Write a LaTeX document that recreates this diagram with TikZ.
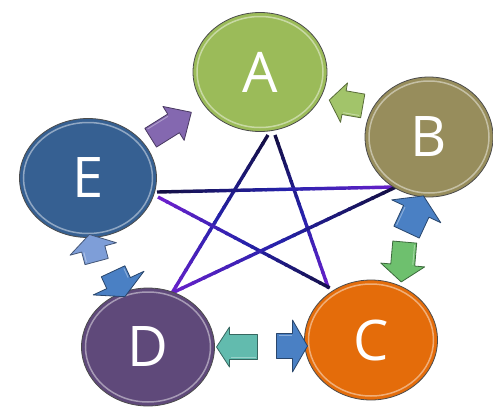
\documentclass[tikz,border=0pt]{standalone}
\usepackage{fontspec}
\setmainfont{Open Sans}
\usetikzlibrary{shapes.geometric,calc}
\definecolor{cA}{HTML}{9BBB59}
\definecolor{cB}{HTML}{978D5C}
\definecolor{cC}{HTML}{E46C0A}
\definecolor{cD}{HTML}{5F497A}
\definecolor{cE}{HTML}{366092}
\definecolor{navy}{HTML}{140F45}
\definecolor{sblue}{HTML}{2622AA}
\definecolor{spurp}{HTML}{6C20CC}
\definecolor{arPurple}{HTML}{8468B0}
\definecolor{arLGreen}{HTML}{A2C46A}
\definecolor{arBlue}{HTML}{4A80C4}
\definecolor{arGreen}{HTML}{6EC06E}
\definecolor{arLBlue}{HTML}{7E9ED8}
\definecolor{arTeal}{HTML}{62BBAE}
\newcommand\blockarrow[8]{%
  \begin{scope}[shift={(#1,#2)},rotate=#3]
    \fill[#8,draw=#8!55!black,line width=0.8pt,line join=round]
      (-#4/2,-#6) -- (#4/2-#5,-#6) -- (#4/2-#5,-#7) -- (#4/2,0) --
      (#4/2-#5,#7) -- (#4/2-#5,#6) -- (-#4/2,#6) -- cycle;
    \draw[white,opacity=0.35,line width=1pt]
      (-#4/2+2,-#6+2) -- (#4/2-#5-1,-#6+2);
  \end{scope}}
\newcommand\gradseg[4]{%
  \foreach \k in {0,...,9}{%
    \pgfmathsetmacro\ta{\k/10}%
    \pgfmathsetmacro\tb{(\k+1)/10+0.02}%
    \pgfmathtruncatemacro\pc{100-\k*10}%
    \draw[line width=3.4pt,color={#3!\pc!#4}] ($(#1)!\ta!(#2)$) -- ($(#1)!\tb!(#2)$);}}
\newcommand\gradline[5]{%
  \coordinate (gm) at ($(#1)!0.5!(#2)$);
  \gradseg{#1}{gm}{#3}{#4}
  \gradseg{gm}{#2}{#4}{#5}}
\tikzset{
  bubble/.style={ellipse,draw=black!70,line width=0.8pt,text=white,
    font=\fontsize{56}{56}\selectfont,inner sep=0pt},
  rim/.style={draw=white,opacity=0.45,line width=1.5pt}
}
\begin{document}
\begin{tikzpicture}[x=1pt,y=-1pt]
\useasboundingbox (0,0) rectangle (493,407);
\fill[white] (0,0) rectangle (493,407);

% star coordinates
\coordinate (a1) at (268,135);
\coordinate (a2) at (275,135);
\coordinate (e1) at (157,192);
\coordinate (e2) at (158,197);
\coordinate (b1) at (396,187);
\coordinate (c1) at (328,287);
\coordinate (d1) at (172,293);

\gradline{a1}{d1}{navy}{sblue}{spurp}
\gradline{a2}{c1}{navy}{sblue}{spurp}
\gradline{e1}{b1}{navy}{sblue}{spurp}
\gradline{e2}{c1}{spurp}{sblue}{navy}
\gradline{b1}{d1}{navy}{sblue}{spurp}

% nodes
\node[bubble,fill=cA,minimum width=134pt,minimum height=119pt] (A) at (260,72) {A};
\node[bubble,fill=cB,minimum width=128pt,minimum height=120pt] (B) at (429,137) {B};
\node[bubble,fill=cC,minimum width=133pt,minimum height=120pt] (C) at (371,340) {C};
\node[bubble,fill=cD,minimum width=133pt,minimum height=118pt] (D) at (148,347) {D};
\node[bubble,fill=cE,minimum width=137pt,minimum height=119pt] (E) at (88,178) {E};

\foreach \n/\w/\h in {A/134/119,B/128/120,C/133/120,D/133/118,E/137/119}{
  \draw[rim] (\n.center) ellipse [x radius=\w/2-4, y radius=\h/2-4];
}

% block arrows
\blockarrow{171}{125}{32}{48}{21}{11}{20}{arPurple}
\blockarrow{346}{103}{170}{34}{15}{12}{20}{arLGreen}
\blockarrow{415}{214}{65}{40}{17}{14}{27}{arBlue}
\blockarrow{403}{262}{-95}{40}{17}{12}{22}{arGreen}
\blockarrow{93}{248}{105}{28}{15}{12}{24}{arLBlue}
\blockarrow{119}{284}{-65}{28}{15}{13}{28}{arBlue}
\blockarrow{237}{347}{180}{41}{13}{12.5}{20}{arTeal}
\blockarrow{292}{346}{0}{31}{15}{12.5}{26}{arBlue}
\end{tikzpicture}
\end{document}
